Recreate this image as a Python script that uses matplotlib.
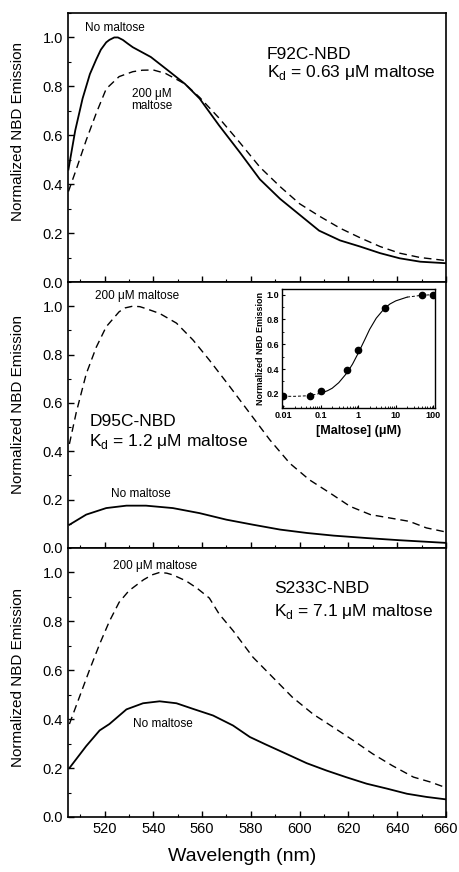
import numpy as np
import matplotlib
matplotlib.use('Agg')
import matplotlib.pyplot as plt
from matplotlib.ticker import MultipleLocator, LogLocator, FixedLocator

plt.rcParams['font.family'] = ['Liberation Sans', 'DejaVu Sans']
plt.rcParams['mathtext.fontset'] = 'custom'
plt.rcParams['mathtext.rm'] = 'Liberation Sans'

# F92C-NBD spectra
wl_f92_free = [505.2, 508, 511, 514, 516.6, 518.5, 520.7, 522, 524, 525.5, 527.5, 529.5, 531.6,
               539, 546.7, 553, 559, 567, 575.5, 583.7, 592, 600, 608, 616.6, 624.8, 633, 641,
               649.5, 659.7]
em_f92_free = [0.46, 0.62, 0.75, 0.85, 0.91, 0.95, 0.98, 0.99, 1.0, 1.0, 0.99, 0.975, 0.96,
               0.92, 0.86, 0.81, 0.75, 0.64, 0.53, 0.42, 0.34, 0.275, 0.21, 0.17, 0.145, 0.118,
               0.097, 0.083, 0.077]
wl_f92_malt = [505.2, 508.4, 512.5, 516.6, 520.7, 526, 531.6, 535.5, 540, 545, 553, 559, 567,
               575.5, 583.7, 592, 600, 608, 616.6, 625, 633, 641, 649.5, 659.7]
em_f92_malt = [0.37, 0.46, 0.58, 0.69, 0.79, 0.84, 0.86, 0.866, 0.867, 0.853, 0.81, 0.755, 0.67,
               0.57, 0.47, 0.39, 0.32, 0.27, 0.22, 0.18, 0.145, 0.118, 0.10, 0.088]

# D95C-NBD spectra
wl_d95_free = [505.6, 512.5, 520.7, 529, 537, 548, 559, 570, 581, 592, 603, 614, 627.5, 641, 660]
em_d95_free = [0.096, 0.138, 0.165, 0.175, 0.175, 0.165, 0.144, 0.117, 0.096, 0.076, 0.062,
               0.051, 0.041, 0.032, 0.021]
wl_d95_malt = [505.6, 508.4, 512.5, 516.6, 520.7, 526, 528.5, 531.6, 534.5, 537, 542.6, 549.5,
               556.3, 563, 571.4, 579.6, 587.8, 596, 604, 612.5, 620.7, 629, 637, 645, 652, 660]
em_d95_malt = [0.43, 0.56, 0.72, 0.83, 0.915, 0.977, 0.993, 1.0, 0.998, 0.99, 0.97, 0.93, 0.86,
               0.777, 0.667, 0.557, 0.447, 0.35, 0.282, 0.227, 0.172, 0.138, 0.124, 0.11, 0.083,
               0.066]

# S233C-NBD spectra
wl_s233_free = [505.6, 512.5, 518, 522, 529, 535.8, 542.6, 549.5, 556.3, 564.5, 572.7, 579.6,
                586, 594.6, 602.9, 611, 619, 627.5, 635.8, 644, 652, 660]
em_s233_free = [0.20, 0.29, 0.354, 0.38, 0.44, 0.465, 0.473, 0.465, 0.442, 0.415, 0.374, 0.327,
                0.297, 0.258, 0.22, 0.19, 0.163, 0.136, 0.116, 0.095, 0.082, 0.072]
wl_s233_malt = [505.6, 509.7, 513.8, 518, 522, 526, 530, 536, 539.5, 542.6, 545.5, 548, 553.5,
                558, 563, 567, 572.7, 580.9, 589, 597, 605.6, 613.8, 622, 630, 638, 646.7, 653.6,
                660]
em_s233_malt = [0.38, 0.49, 0.60, 0.707, 0.80, 0.878, 0.925, 0.97, 0.99, 1.0, 0.997, 0.99,
                0.965, 0.935, 0.895, 0.83, 0.762, 0.653, 0.571, 0.49, 0.42, 0.367, 0.313, 0.258,
                0.21, 0.163, 0.143, 0.12]

# inset titration (D95C)
conc = [0.01, 0.05, 0.1, 0.5, 1, 5, 50, 100]
resp = [0.18, 0.186, 0.22, 0.39, 0.55, 0.89, 1.0, 1.0]
resp_err = [0.0, 0.03, 0.0, 0.0, 0.0, 0.0, 0.025, 0.0]
fit_conc = [0.01, 0.02, 0.05, 0.1, 0.15, 0.2, 0.3, 0.5, 0.7, 1, 1.5, 2, 3, 5, 7, 10, 20, 50, 100]
fit_resp = [0.18, 0.18, 0.185, 0.205, 0.225, 0.245, 0.29, 0.37, 0.44, 0.53, 0.64, 0.72, 0.81,
            0.89, 0.925, 0.95, 0.98, 0.995, 1.0]

fig = plt.figure(figsize=(4.59, 8.72), dpi=100)
L, W = 0.148, 0.8235
ax1 = fig.add_axes([L, 0.6766, W, 0.3085])
ax2 = fig.add_axes([L, 0.3716, W, 0.305])
ax3 = fig.add_axes([L, 0.0631, W, 0.3085])

dash = (0, (5.5, 3.5))
panels = [
    (ax1, wl_f92_free, em_f92_free, wl_f92_malt, em_f92_malt, 0.56),
    (ax2, wl_d95_free, em_d95_free, wl_d95_malt, em_d95_malt, 0.54),
    (ax3, wl_s233_free, em_s233_free, wl_s233_malt, em_s233_malt, 0.52),
]
for ax, xf, yf, xm, ym, lab_y in panels:
    ax.plot(xf, yf, color='black', lw=1.3)
    ax.plot(xm, ym, color='black', lw=1.0, linestyle=dash)
    ax.set_xlim(505, 660)
    ax.set_ylim(0, 1.1)
    ax.xaxis.set_major_locator(FixedLocator([520, 540, 560, 580, 600, 620, 640, 660]))
    ax.xaxis.set_minor_locator(MultipleLocator(10))
    ax.yaxis.set_major_locator(FixedLocator([0, 0.2, 0.4, 0.6, 0.8, 1.0]))
    ax.yaxis.set_minor_locator(MultipleLocator(0.1))
    ax.tick_params(which='both', direction='in', labelsize=10.5)
    ax.tick_params(which='major', length=4, width=1)
    ax.tick_params(which='minor', length=2, width=0.8)
    ax.yaxis.set_major_formatter(matplotlib.ticker.FormatStrFormatter('%.1f'))
    for s in ax.spines.values():
        s.set_linewidth(1.2)
    ax.set_ylabel('Normalized NBD Emission', fontsize=11)
    ax.yaxis.set_label_coords(-0.113, lab_y)
ax1.tick_params(labelbottom=False)
ax2.tick_params(labelbottom=False)

fig.text(0.527, 0.018, 'Wavelength (nm)', ha='center', va='center', fontsize=14)

small = 8.5
big = 12.5
ax1.text(511.8, 1.025, 'No maltose', fontsize=small)
ax1.text(531.1, 0.795, '200 μM\nmaltose', fontsize=small, va='top', linespacing=1.1)
ax1.text(586.5, 0.91, 'F92C-NBD', fontsize=big)
ax1.text(586.5, 0.84, r'K$_\mathregular{d}$ = 0.63 μM maltose', fontsize=big)

ax2.text(515.9, 1.03, '200 μM maltose', fontsize=small)
ax2.text(522.5, 0.21, 'No maltose', fontsize=small)
ax2.text(513.8, 0.505, 'D95C-NBD', fontsize=big)
ax2.text(513.8, 0.42, r'K$_\mathregular{d}$ = 1.2 μM maltose', fontsize=big)

ax3.text(523.3, 1.016, '200 μM maltose', fontsize=small)
ax3.text(531.5, 0.367, 'No maltose', fontsize=small)
ax3.text(589.4, 0.914, 'S233C-NBD', fontsize=big)
ax3.text(589.4, 0.82, r'K$_\mathregular{d}$ = 7.1 μM maltose', fontsize=big)

# inset
ins = fig.add_axes([0.6137, 0.532, 0.334, 0.1365])
fc = np.array(fit_conc)
fr = np.array(fit_resp)
lo = fc <= 0.1
mid = (fc >= 0.1) & (fc <= 20)
hi = fc >= 20
ins.plot(fc[lo], fr[lo], color='black', lw=0.7, linestyle=(0, (3, 2)))
ins.plot(fc[mid], fr[mid], color='black', lw=0.8)
ins.plot(fc[hi], fr[hi], color='black', lw=0.7, linestyle=(0, (3, 2)))
ins.errorbar(conc, resp, yerr=resp_err, fmt='o', color='black', ms=4.5, elinewidth=0.7,
             capsize=0, clip_on=True)
ins.set_xscale('log')
ins.set_xlim(0.009, 111)
ins.set_ylim(0.085, 1.045)
ins.set_xticks([0.01, 0.1, 1, 10, 100])
ins.set_xticklabels(['0.01', '0.1', '1', '10', '100'])
ins.xaxis.set_minor_locator(LogLocator(base=10, subs=np.arange(2, 10)))
ins.xaxis.set_minor_formatter(matplotlib.ticker.NullFormatter())
ins.set_yticks([0.2, 0.4, 0.6, 0.8, 1.0])
ins.yaxis.set_major_formatter(matplotlib.ticker.FormatStrFormatter('%.1f'))
ins.yaxis.set_minor_locator(MultipleLocator(0.1))
ins.tick_params(which='both', direction='in', labelsize=6.5, pad=2)
ins.tick_params(which='major', length=2.5, width=0.8)
ins.tick_params(which='minor', length=1.3, width=0.6)
for t in ins.get_xticklabels() + ins.get_yticklabels():
    t.set_fontweight('bold')
for s in ins.spines.values():
    s.set_linewidth(1.0)
ins.set_xlabel('[Maltose] (μM)', fontsize=9, fontweight='bold', labelpad=4)
ins.set_ylabel('Normalized NBD Emission', fontsize=6.5, fontweight='bold', labelpad=1)

fig.savefig('out.png', dpi=100)
